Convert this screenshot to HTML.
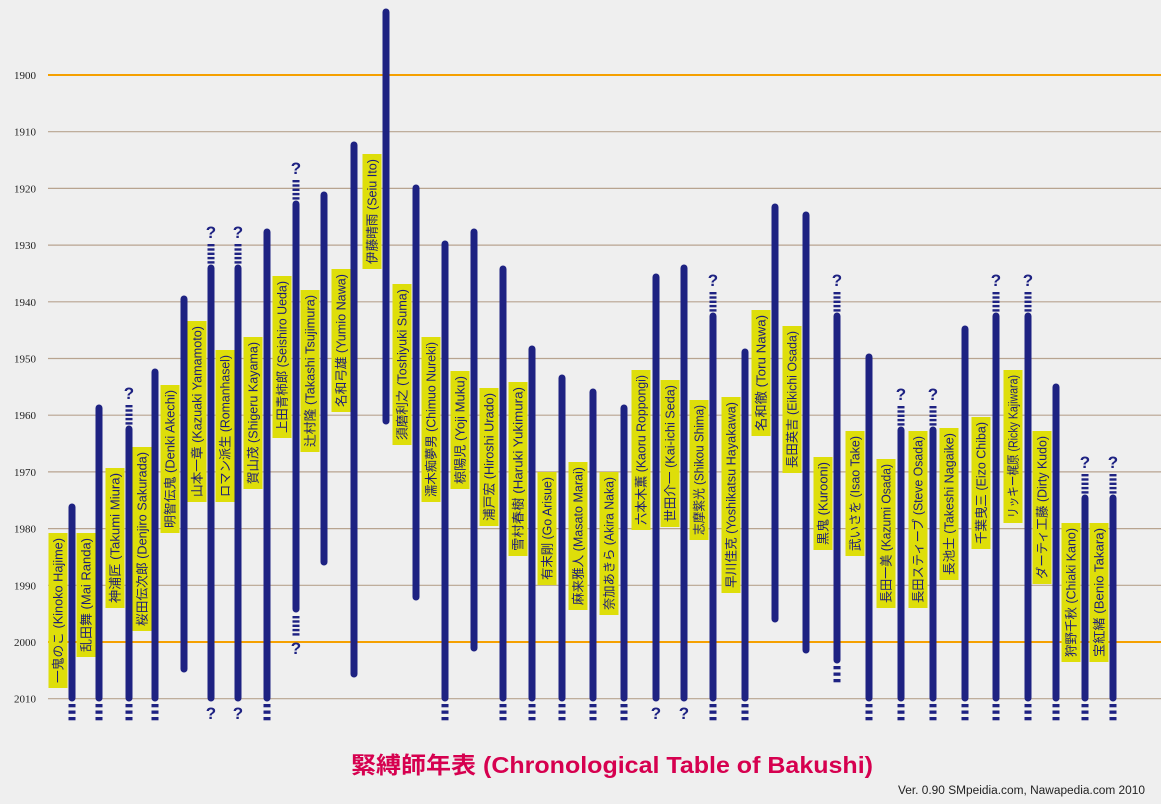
<!DOCTYPE html>
<html><head><meta charset="utf-8"><style>
html,body{margin:0;padding:0;background:#efefef;}
svg{display:block}
</style></head><body>
<svg id="s" width="1161" height="804" xmlns="http://www.w3.org/2000/svg" font-family="Liberation Sans, Noto Sans CJK JP, sans-serif"></svg>
<script>
const s=document.getElementById('s');let h='';
const Y=y=>75+(y-1900)*5.67;
for(let yr=1900;yr<=2010;yr+=10){const y=Y(yr);const o=(yr==1900||yr==2000);
h+=`<line x1="48" x2="1161" y1="${y}" y2="${y}" stroke="${o?'#f5a000':'#b8a490'}" stroke-width="${o?2:1.2}"/>`;
h+=`<text x="14" y="${y+4}" font-family="Liberation Serif, serif" font-size="11" fill="#222">${yr}</text>`;}
const L=[["一鬼のこ (Kinoko Hajime)",58,533,688],["乱田舞 (Mai Randa)",86,533,657],["神浦匠 (Takumi Miura)",115,468,608],["桜田伝次郎 (Denjiro Sakurada)",142,447,631],["明智伝鬼 (Denki Akechi)",170,385,533],["山本一章 (Kazuaki Yamamoto)",197,321,502],["ロマン派生 (Romanhasel)",225,350,502],["賀山茂 (Shigeru Kayama)",253,337,489],["上田青柿郎 (Seishiro Ueda)",282,276,438],["辻村隆 (Takashi Tsujimura)",310,290,452],["名和弓雄 (Yumio Nawa)",341,269,412],["伊藤晴雨 (Seiu Ito)",372,154,269],["須磨利之 (Toshiyuki Suma)",402,284,445],["濡木痴夢男 (Chimuo Nureki)",431,337,502],["椋陽児 (Yoji Muku)",460,371,489],["浦戸宏 (Hiroshi Urado)",489,388,526],["雪村春樹 (Haruki Yukimura)",518,382,556],["有末剛 (Go Arisue)",547,472,585],["麻来雅人 (Masato Marai)",578,462,610],["奈加あきら (Akira Naka)",609,472,615],["六本木薫 (Kaoru Roppongi)",641,370,530],["世田介一 (Kai-ichi Seda)",670,380,527],["志摩紫光 (Shikou Shima)",699,400,540],["早川佳克 (Yoshikatsu Hayakawa)",731,397,593],["名和徹 (Toru Nawa)",761,310,436],["長田英吉 (Eikichi Osada)",792,326,473],["黒鬼 (Kurooni)",823,457,550],["武いさを (Isao Take)",855,431,556],["長田一美 (Kazumi Osada)",886,459,608],["長田スティーブ (Steve Osada)",918,431,608],["長池士 (Takeshi Nagaike)",949,428,580],["千葉曳三 (Eizo Chiba)",981,417,549],["リッキー梶原 (Ricky Kajiwara)",1013,370,523],["ダーティ工藤 (Dirty Kudo)",1042,431,584],["狩野千秋 (Chiaki Kano)",1071,523,662],["宝紅緒 (Benio Takara)",1099,523,662]];
for(const [t,x,a,b] of L){h+=`<rect x="${x-9.5}" y="${a}" width="19" height="${b-a}" fill="#dede0a"/>`;
const cy=(a+b)/2;h+=`<text transform="translate(${x+4.5},${cy}) rotate(-90)" text-anchor="middle" font-size="12.5" fill="#1c1c78" textLength="${b-a-10}" lengthAdjust="spacingAndGlyphs">${t}</text>`;}
const B=[[72,507,698,0,'d'],[99,408,698,0,'d'],[129,429,698,1,'d'],[155,372,698,0,'d'],[184,299,669,0,0],[211,268,698,1,'q'],[238,268,698,1,'q'],[267,232,698,0,'d'],[296,204,609,1,'dq'],[324,195,562,0,0],[354,145,674,0,0],[386,12,421,0,0],[416,188,597,0,0],[445,244,698,0,'d'],[474,232,648,0,0],[503,269,698,0,'d'],[532,349,698,0,'d'],[562,378,698,0,'d'],[593,392,698,0,'d'],[624,408,698,0,'d'],[656,277,698,0,'q'],[684,268,698,0,'q'],[713,316,698,1,'d'],[745,352,698,0,'d'],[775,207,619,0,0],[806,215,650,0,0],[837,316,660,1,'d'],[869,357,698,0,'d'],[901,430,698,1,'d'],[933,430,698,1,'d'],[965,329,698,0,'d'],[996,316,698,1,'d'],[1028,316,698,1,'d'],[1056,387,698,0,'d'],[1085,498,698,1,'d'],[1113,498,698,1,'d']];
const C='#1e2282';
const dots=(x,y0,n,sp,hh)=>{let r='';for(let i=0;i<n;i++)r+=`<rect x="${x-3.5}" y="${y0+i*sp}" width="7" height="${hh}" fill="${C}"/>`;return r;};
const q=(x,y)=>`<text x="${x}" y="${y}" text-anchor="middle" font-size="17" font-weight="bold" fill="${C}">?</text>`;
for(const [x,t,b,tm,bm] of B){
h+=`<line x1="${x}" x2="${x}" y1="${t}" y2="${b}" stroke="${C}" stroke-width="7" stroke-linecap="round"/>`;
if(tm){h+=dots(x,t-24,5,4.3,2.4);h+=q(x,t-30);}
if(bm=='d')h+=dots(x,b+6,3,6.5,3.3);
if(bm=='q')h+=q(x,b+21);
if(bm=='dq'){h+=dots(x,b+7,5,4.3,2.4);h+=q(x,b+45);}
}
h+=`<text x="612" y="773" text-anchor="middle" font-size="23" font-weight="bold" fill="#d6004f" textLength="522" lengthAdjust="spacingAndGlyphs">緊縛師年表 (Chronological Table of Bakushi)</text>`;
h+=`<text x="1145" y="794" text-anchor="end" font-size="11.5" fill="#222" textLength="247" lengthAdjust="spacingAndGlyphs">Ver. 0.90 SMpeidia.com, Nawapedia.com 2010</text>`;
s.innerHTML=h;
</script>
</body></html>
